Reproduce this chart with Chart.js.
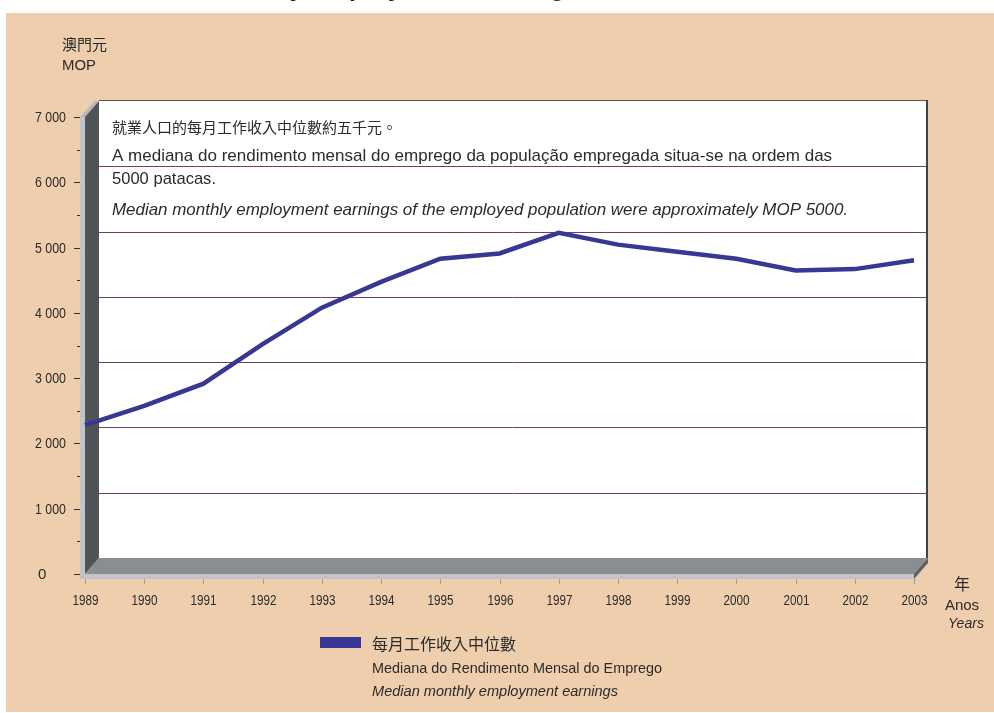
<!DOCTYPE html>
<html>
<head>
<meta charset="utf-8">
<script src="https://cdn.jsdelivr.net/npm/chart.js@4"></script>
<style>
  body { margin: 0; background: #fff; }
  #chart { display: block; }
</style>
</head>
<body>
<canvas id="chart" width="994" height="713"></canvas>
<script>
const years = ['1989', '1990', '1991', '1992', '1993', '1994', '1995', '1996', '1997', '1998', '1999', '2000', '2001', '2002', '2003'];
const earnings = [2280, 2575, 2915, 3520, 4080, 4475, 4830, 4910, 5225, 5045, 4935, 4830, 4650, 4670, 4805];
const yTicks = [0, 1000, 2000, 3000, 4000, 5000, 6000, 7000];
const yTickLabels = ['0', '1 000', '2 000', '3 000', '4 000', '5 000', '6 000', '7 000'];

const seriesName = ['每月工作收入中位數', 'Mediana do Rendimento Mensal do Emprego', 'Median monthly employment earnings'];
const note = [
  '就業人口的每月工作收入中位數約五千元。',
  'A mediana do rendimento mensal do emprego da população empregada situa-se na ordem das',
  '5000 patacas.',
  'Median monthly employment earnings of the employed population were approximately MOP 5000.'
];

const PEACH = '#efcead';
const LINE = '#383894';
const GRID = '#6c3f6c';
const TEXT = '#2b2b2b';
const SANS = '"Liberation Sans", Arial, sans-serif';
const CJK = '"Noto Sans CJK TC", "Noto Sans CJK SC", sans-serif';
// depth of the 3d box
const dx = 14, dy = -16;

function poly(ctx, pts, color) {
  ctx.beginPath();
  ctx.moveTo(pts[0][0], pts[0][1]);
  for (let i = 1; i < pts.length; i++) ctx.lineTo(pts[i][0], pts[i][1]);
  ctx.closePath();
  ctx.fillStyle = color;
  ctx.fill();
}

// text squeezed to a given width, like the condensed face of the original
function squeeze(ctx, str, x, y, font, width, align) {
  ctx.font = font;
  ctx.textAlign = align || 'left';
  const w = ctx.measureText(str).width;
  if (width && w > width) ctx.fillText(str, x, y, width);
  else ctx.fillText(str, x, y);
}

const boxPlugin = {
  id: 'box3d',
  beforeDatasetsDraw(chart) {
    const ctx = chart.ctx;
    const xs = chart.scales.x;
    const ys = chart.scales.y;
    const L = xs.getPixelForValue(0);
    const R = xs.getPixelForValue(years.length - 1);
    const B = ys.getPixelForValue(0);
    const T = ys.getPixelForValue(7000);

    ctx.save();
    ctx.fillStyle = '#fff';
    ctx.fillRect(0, 0, chart.width, chart.height);
    ctx.fillStyle = PEACH;
    ctx.fillRect(6, 13, chart.width - 6, 699);

    // title line cut off at the top edge
    ctx.fillStyle = '#222';
    ctx.textBaseline = 'alphabetic';
    ctx.font = 'bold 26px ' + SANS;
    ctx.textAlign = 'left';
    ctx.fillText('Median monthly employment earnings', 106, -4);

    // light edge of the left wall and its top bevel
    ctx.fillStyle = '#c1c5cb';
    ctx.fillRect(L - 5, T, 5, B - T + 5);
    poly(ctx, [[L - 5, T], [L + dx - 4, T + dy], [L + dx, T + dy], [L, T]], '#b3b8bf');

    // left wall
    poly(ctx, [[L, T], [L + dx, T + dy], [L + dx, B + dy], [L, B]], '#4f5557');

    // back wall
    ctx.fillStyle = '#fff';
    ctx.fillRect(L + dx, T + dy, R - L, B - T);
    ctx.fillStyle = '#555';
    ctx.fillRect(L + dx, T + dy - 1, R - L, 1);
    ctx.fillStyle = '#444';
    ctx.fillRect(R + dx - 2, T + dy - 1, 2, B - T + 1);

    // floor
    poly(ctx, [[L, B], [L + dx, B + dy], [R + dx, B + dy], [R, B]], '#898e93');
    poly(ctx, [[R, B], [R + dx, B + dy], [R + dx, B + dy + 5], [R, B + 5]], '#5a6063');
    ctx.fillStyle = '#c1c5cb';
    ctx.fillRect(L - 5, B, R - L + 5, 5);

    // gridlines on wall and back
    ctx.strokeStyle = GRID;
    ctx.lineWidth = 1;
    yTicks.forEach(v => {
      if (v === 0 || v === 7000) return;
      const y = Math.round(ys.getPixelForValue(v)) + 0.5;
      ctx.beginPath();
      ctx.moveTo(L, y);
      ctx.lineTo(L + dx, y + dy);
      ctx.lineTo(R + dx - 2, y + dy);
      ctx.stroke();
    });

    // y ticks and labels
    ctx.strokeStyle = '#333';
    ctx.fillStyle = TEXT;
    ctx.textBaseline = 'middle';
    yTicks.forEach((v, i) => {
      const y = Math.round(ys.getPixelForValue(v)) + 0.5;
      ctx.beginPath();
      ctx.moveTo(L - 11, y);
      ctx.lineTo(L - 5, y);
      ctx.stroke();
      if (v < 7000) {
        const ym = Math.round(ys.getPixelForValue(v + 500)) + 0.5;
        ctx.beginPath();
        ctx.moveTo(L - 8, ym);
        ctx.lineTo(L - 5, ym);
        ctx.stroke();
      }
      const lab = yTickLabels[i];
      if (lab.length > 1) squeeze(ctx, lab, 35, y, '15px ' + SANS, 31);
      else squeeze(ctx, lab, 38, y, '15px ' + SANS, 0);
    });

    // x ticks and labels
    ctx.strokeStyle = '#9a9ea4';
    years.forEach((yr, i) => {
      const x = Math.round(xs.getPixelForValue(i)) + 0.5;
      ctx.beginPath();
      ctx.moveTo(x, B + 5);
      ctx.lineTo(x, B + 10);
      ctx.stroke();
      ctx.fillStyle = TEXT;
      squeeze(ctx, yr, x, B + 27, '15px ' + SANS, 26, 'center');
    });
    ctx.restore();
  },
  afterDraw(chart) {
    const ctx = chart.ctx;
    ctx.save();
    ctx.fillStyle = TEXT;
    ctx.textBaseline = 'alphabetic';

    // axis titles
    ctx.font = '15px ' + CJK;
    ctx.textAlign = 'left';
    ctx.fillText('澳門元', 62, 50);
    squeeze(ctx, 'MOP', 62, 70, '15px ' + SANS, 34);
    ctx.font = '16px ' + CJK;
    ctx.textAlign = 'center';
    ctx.fillText('年', 962, 590);
    squeeze(ctx, 'Anos', 962, 610, '15px ' + SANS, 35, 'center');
    squeeze(ctx, 'Years', 966, 628, 'italic 15px ' + SANS, 36, 'center');

    // note in the plot
    ctx.font = '15px ' + CJK;
    ctx.textAlign = 'left';
    ctx.fillText(note[0], 112, 133);
    squeeze(ctx, note[1], 112, 161, '17px ' + SANS, 728);
    squeeze(ctx, note[2], 112, 184, '17px ' + SANS, 104);
    squeeze(ctx, note[3], 112, 215, 'italic 17px ' + SANS, 736);

    // legend
    ctx.fillStyle = LINE;
    ctx.fillRect(320, 637, 41, 11);
    ctx.fillStyle = TEXT;
    ctx.font = '16px ' + CJK;
    ctx.fillText(seriesName[0], 372, 650);
    squeeze(ctx, seriesName[1], 372, 673, '15px ' + SANS, 290);
    squeeze(ctx, seriesName[2], 372, 696, 'italic 15px ' + SANS, 246);
    ctx.restore();
  }
};

new Chart(document.getElementById('chart'), {
  type: 'line',
  data: {
    labels: years,
    datasets: [{
      label: seriesName[2],
      data: earnings,
      borderColor: LINE,
      borderWidth: 4.5,
      pointRadius: 0,
      tension: 0,
      fill: false
    }]
  },
  options: {
    responsive: false,
    devicePixelRatio: 1,
    animation: false,
    layout: { padding: { left: 85, right: 80, top: 117, bottom: 139 } },
    scales: {
      x: { type: 'category', offset: false, display: false },
      y: { min: 0, max: 7000, display: false }
    },
    plugins: {
      legend: { display: false },
      tooltip: { enabled: false }
    }
  },
  plugins: [boxPlugin]
});
</script>
</body>
</html>
